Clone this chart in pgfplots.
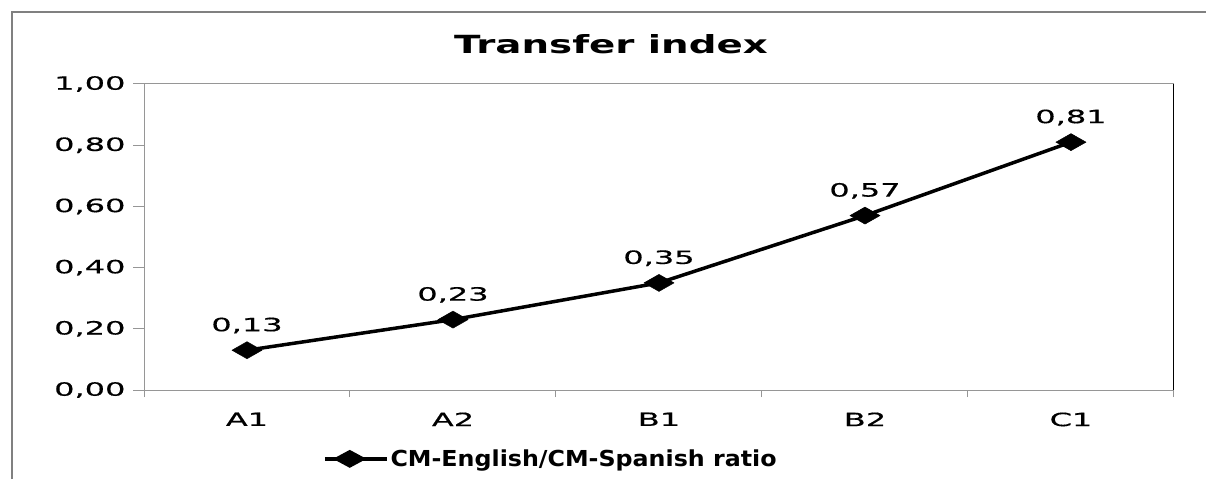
\documentclass[border=0pt]{standalone}
\usepackage{fontspec}
\setmainfont{DejaVu Sans}
\newfontfamily\tickfont[FakeStretch=1.75, FakeBold=0.5]{DejaVu Sans}
\newfontfamily\titlefont[FakeStretch=1.55]{DejaVu Sans Bold}
\newfontfamily\legfont[FakeStretch=1.08]{DejaVu Sans Bold}
\usepackage{pgfplots}
\pgfplotsset{compat=1.18}
\definecolor{bordergray}{RGB}{128,128,128}
\definecolor{axgray}{RGB}{150,150,150}
\begin{document}
\begin{tikzpicture}
\useasboundingbox (0,0) rectangle (1206pt,479pt);
\draw[bordergray, line width=2.5pt] (12pt,0pt) -- (12pt,467pt) -- (1206pt,467pt);
\node[font=\titlefont\fontsize{25}{28}\selectfont] at (611pt,435pt) {Transfer index};
\begin{axis}[
  at={(144pt,89pt)}, anchor=south west,
  scale only axis, width=1030pt, height=306pt,
  xmin=0.5, xmax=5.5, ymin=0, ymax=1,
  ytick={0,0.2,0.4,0.6,0.8,1.0},
  xtick={1,2,3,4,5},
  xticklabels={A1,A2,B1,B2,C1},
  minor xtick={0.5,1.5,2.5,3.5,4.5,5.5},
  major x tick style={draw=none},
  xtick pos=lower, ytick pos=left,
  tick align=outside,
  major tick length=11pt,
  minor tick length=7pt,
  tick style={axgray, line width=1pt},
  axis line style={axgray, line width=1pt},
  /pgf/number format/assume math mode=true,
  /pgf/number format/fixed,
  /pgf/number format/fixed zerofill,
  /pgf/number format/precision=2,
  /pgf/number format/use comma,
  ticklabel style={font=\tickfont\fontsize{18.3}{20}\selectfont},
  xticklabel style={yshift=-8pt},
  yticklabel style={xshift=-4pt},
  nodes near coords,
  nodes near coords style={font=\tickfont\fontsize{18.3}{20}\selectfont, anchor=base, yshift=19pt},
  legend style={at={(0.395,-0.225)}, anchor=center, draw=none, fill=none,
    font=\legfont\fontsize{22}{24}\selectfont, inner sep=0pt},
  legend image code/.code={
    \draw[black, line width=3.5pt] (0pt,0pt) -- (62pt,0pt);
    \fill[black] (25pt,0pt) ++(-13pt,0pt) -- ++(13pt,7pt) -- ++(13pt,-7pt) -- ++(-13pt,-7pt) -- cycle;
  },
]
\addplot[black, line width=3.5pt, mark=diamond*, mark size=8.5pt, mark options={xscale=2.35, line width=0.5pt}]
  coordinates {(1,0.13) (2,0.23) (3,0.35) (4,0.57) (5,0.81)};
\addlegendentry{CM-English/CM-Spanish ratio}
\draw[black, line width=1.2pt] (rel axis cs:1,0) -- (rel axis cs:1,1);
\end{axis}
\end{tikzpicture}
\end{document}
